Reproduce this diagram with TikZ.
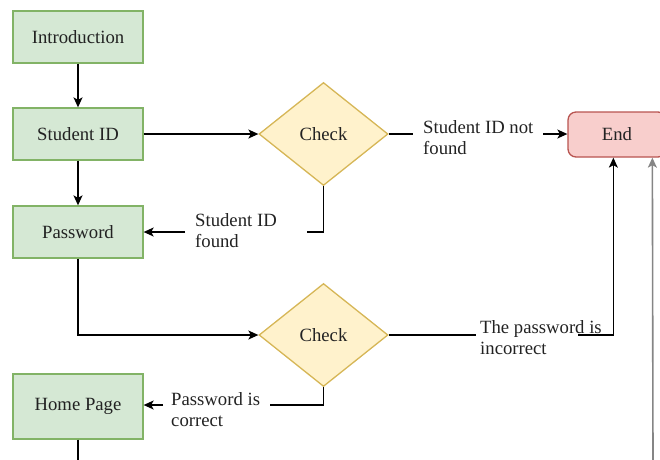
\documentclass[tikz,border=0pt]{standalone}
\usepackage{fontspec}
\setmainfont{Liberation Serif}
\usetikzlibrary{shapes.geometric,arrows.meta}
\definecolor{gfill}{HTML}{D5E8D4}
\definecolor{gdraw}{HTML}{82B366}
\definecolor{yfill}{HTML}{FFF2CC}
\definecolor{ydraw}{HTML}{D6B656}
\definecolor{rfill}{HTML}{F8CECC}
\definecolor{rdraw}{HTML}{B85450}
\definecolor{txt}{HTML}{222222}
\definecolor{lgray}{HTML}{858585}
\tikzset{
  every node/.style={font=\fontsize{18.7}{21}\selectfont, text=txt},
  gbox/.style={draw=gdraw, fill=gfill, line width=1.3pt, minimum width=130pt, minimum height=52pt, inner sep=0pt},
  decis/.style={diamond, draw=ydraw, fill=yfill, line width=1.3pt, minimum width=129pt, minimum height=103pt, inner sep=0pt, aspect=1.25},
  endbox/.style={draw=rdraw, fill=rfill, line width=1.3pt, rounded corners=8pt, minimum width=98pt, minimum height=45pt, inner sep=0pt},
  conn/.style={draw=black, line width=1.3pt},
  arr/.style={conn, -{Stealth[length=10pt,width=9pt,inset=2.5pt]}},
  garr/.style={draw=lgray, line width=1.6pt, -{Stealth[length=10pt,width=9pt,inset=2.5pt]}},
  lbl/.style={anchor=base west, align=left, inner sep=0pt}
}
\begin{document}
\begin{tikzpicture}[x=1pt,y=-1pt]
\useasboundingbox (0,0) rectangle (660,459);
\clip (0,0) rectangle (660,459);
\node[gbox] (intro) at (78,37) {Introduction};
\node[gbox] (sid) at (78,134) {Student ID};
\node[gbox] (pwd) at (78,232) {Password};
\node[gbox, minimum height=65pt] (home) at (78,406.5) {Home Page};
\node[decis] (chk1) at (323.5,134) {Check};
\node[decis] (chk2) at (323.5,335) {Check};
\node[endbox] (endn) at (617,134.5) {End};

\node[lbl] (l1) at (423,154) {Student ID not\\found};
\node[lbl] (l2) at (195,247) {Student ID\\found};
\node[lbl] (l3) at (480,354) {The password is\\incorrect};
\node[lbl] (l4) at (171,426) {Password is\\correct};

\coordinate (g1a) at (413,134);
\coordinate (g1b) at (543,134);
\coordinate (g2a) at (307,232);
\coordinate (g2b) at (185,232);
\coordinate (g3a) at (476,335);
\coordinate (g3b) at (578,335);
\coordinate (g4a) at (270,405);
\coordinate (g4b) at (163,405);
\coordinate (hbot) at (78,462);
\coordinate (gbot) at (653,462);

\draw[arr] (intro) -- (sid);
\draw[arr] (sid) -- (pwd);
\draw[arr] (sid.east) -- (chk1.west);
\draw[conn] (chk1.east) -- (g1a);
\draw[arr] (g1b) -- (endn.west |- g1b);
\draw[conn] (chk1.south) |- (g2a);
\draw[arr] (g2b) -- (pwd.east);
\draw[arr] (pwd.south) |- (chk2.west);
\draw[conn] (chk2.east) -- (g3a);
\draw[arr] (g3b) -| ([xshift=46pt]endn.south west);
\draw[conn] (chk2.south) |- (g4a);
\draw[arr] (g4b) -- (home.east |- g4b);
\draw[conn] (home.south) -- (hbot);
\draw[garr] (gbot) -- ([xshift=85pt]endn.south west);
\end{tikzpicture}
\end{document}
